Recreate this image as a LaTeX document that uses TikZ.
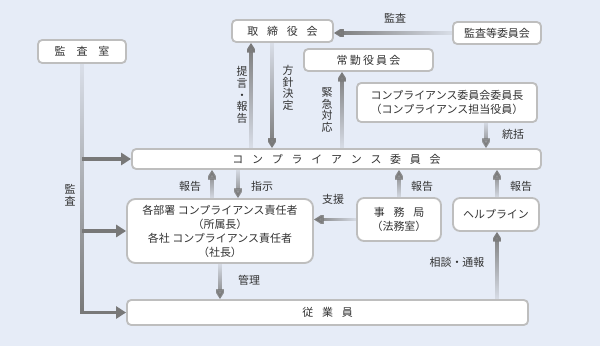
\documentclass[tikz,border=0pt]{standalone}
\usepackage{fontspec}
\setmainfont{Noto Sans CJK JP}
\usetikzlibrary{arrows.meta,positioning,fadings}
\definecolor{bgblue}{RGB}{230,236,247}
\definecolor{boxgrey}{RGB}{190,190,190}
\definecolor{arrowgrey}{RGB}{120,120,120}
\definecolor{textgrey}{RGB}{50,50,50}
\newcommand{\gap}{\hspace{0.8em}}
\tikzfading[name=tailbottom, bottom color=transparent!90, middle color=transparent!20, top color=transparent!0]
\tikzfading[name=tailtop, top color=transparent!90, middle color=transparent!20, bottom color=transparent!0]
\tikzfading[name=tailright, right color=transparent!90, middle color=transparent!20, left color=transparent!0]

\begin{document}
\begin{tikzpicture}[
    x=0.025cm, y=-0.025cm,
    orgbox/.style={rectangle, draw=boxgrey, fill=white, line width=1.3pt,
        rounded corners=3pt, inner sep=0pt, align=center,
        font=\fontsize{7.8}{10}\selectfont, text=textgrey},
    flow/.style={draw=arrowgrey, line width=2.8pt,
        -{Triangle[length=7pt,width=8.5pt]}},
    flowup/.style={flow, path fading=tailbottom},
    flowdown/.style={flow, path fading=tailtop},
    flowleft/.style={flow, path fading=tailright},
    lbl/.style={font=\fontsize{7.8}{9}\selectfont, text=textgrey,
        inner sep=0pt, align=center},
    vlbl/.style={lbl, font=\fontsize{7.8}{8.3}\selectfont}
]
\fill[bgblue] (0,0) rectangle (600,346);
\useasboundingbox (0,0) rectangle (600,346);

% boxes
\node[orgbox, minimum width=2.2cm, minimum height=0.575cm] (audit) at (82,51.5) {監\hspace{1em}査\hspace{1em}室};
\node[orgbox, minimum width=2.525cm, minimum height=0.55cm] (board) at (282.5,31) {取\gap 締\gap 役\gap 会};
\node[orgbox, minimum width=2.2cm, minimum height=0.55cm] (auditcom) at (497,33) {監査等委員会};
\node[orgbox, minimum width=3.225cm, minimum height=0.55cm] (exec) at (368.5,60) {常\hspace{0.2em}勤\hspace{0.2em}役\hspace{0.2em}員\hspace{0.2em}会};
\node[orgbox, minimum width=4.5cm, minimum height=0.975cm, font=\fontsize{7.8}{9.5}\selectfont] (chair) at (447,102.5)
    {コンプライアンス委員会委員長\\（コンプライアンス担当役員）};
\node[orgbox, minimum width=10.225cm, minimum height=0.5cm] (comm) at (336.5,159)
    {コ\gap ン\gap プ\gap ラ\gap イ\gap ア\gap ン\gap ス\gap 委\gap 員\gap 会};
\node[orgbox, minimum width=4.65cm, minimum height=1.6cm, rounded corners=6pt] (dept) at (220,231)
    {各部署 コンプライアンス責任者\\（所属長）\\各社 コンプライアンス責任者\\（社長）};
\node[orgbox, minimum width=2.1cm, minimum height=1.075cm, rounded corners=5pt] (office) at (399,219.5)
    {事\gap 務\gap 局\\（法務室）};
\node[orgbox, minimum width=2.15cm, minimum height=0.825cm, rounded corners=5pt] (help) at (496,214.5) {ヘルプライン};
\node[orgbox, minimum width=10.025cm, minimum height=0.625cm] (staff) at (327.5,312.5) {従\gap 業\gap 員};

% x positions of the vertical connectors
\coordinate (xpropose) at (251,0);
\coordinate (xpolicy) at (272,0);
\coordinate (xurgent) at (342,0);
\coordinate (xlead) at (486,0);
\coordinate (xreport) at (212,0);
\coordinate (xorder) at (238,0);
\coordinate (xmanage) at (220,0);
\coordinate (xoffice) at (399,0);
\coordinate (xhelp) at (497,0);

% connectors
\draw[flowleft] (auditcom.west) -- (auditcom.west -| board.east);
\draw[flowup] (comm.north -| xpropose) -- (board.south -| xpropose);
\draw[flowdown] (board.south -| xpolicy) -- (comm.north -| xpolicy);
\draw[flowup] (comm.north -| xurgent) -- (exec.south -| xurgent);
\draw[flowdown] (chair.south -| xlead) -- (comm.north -| xlead);
\draw[flowup] (dept.north -| xreport) -- (comm.south -| xreport);
\draw[flowdown] (comm.south -| xorder) -- (dept.north -| xorder);
\draw[flowup] (office.north -| xoffice) -- (comm.south -| xoffice);
\draw[flowup] (help.north -| xhelp) -- (comm.south -| xhelp);
\draw[flowup] (staff.north -| xhelp) -- (help.south -| xhelp);
\draw[flowdown] (dept.south -| xmanage) -- (staff.north -| xmanage);
\draw[flowleft] (office.west) -- (office.west -| dept.east);
\draw[flowdown] (audit.south) |- (staff.west);
\draw[flow] (audit.south |- comm.west) -- (comm.west);
\draw[flow] (audit.south |- dept.west) -- (dept.west);

% labels
\node[lbl] (lblaudit) at (395,18) {監査};
\node[vlbl] (lblpropose) at (242,95) {提\\言\\・\\報\\告};
\node[vlbl] (lblpolicy) at (288,88) {方\\針\\決\\定};
\node[vlbl] (lblurgent) at (327,110) {緊\\急\\対\\応};
\node[lbl] (lbllead) at (513,134) {統括};
\node[vlbl] (lblcheck) at (70,195) {監\\査};
\node[lbl] (lblreport) at (190,186) {報告};
\node[lbl] (lblorder) at (262,186) {指示};
\node[lbl] (lblsupport) at (333,199) {支援};
\node[lbl] (lblofficerep) at (422,186) {報告};
\node[lbl] (lblhelprep) at (521,186) {報告};
\node[lbl] (lblmanage) at (249,280) {管理};
\node[lbl] (lblconsult) at (457,262) {相談・通報};
\end{tikzpicture}
\end{document}
